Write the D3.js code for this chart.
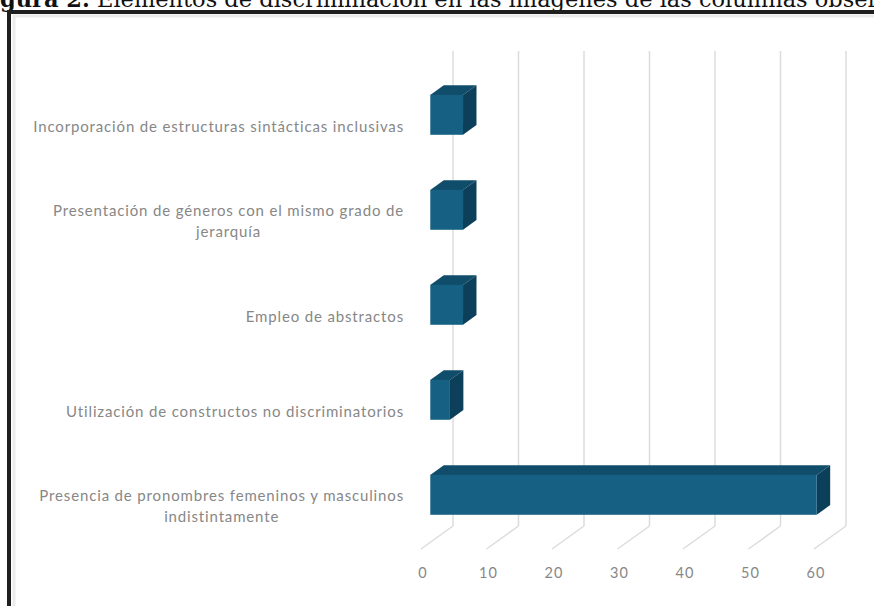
<!DOCTYPE html>
<html>
<head>
<meta charset="utf-8">
<script src="https://cdn.jsdelivr.net/npm/d3@7"></script>
<style>
  html, body { margin: 0; padding: 0; background: #fff; overflow: hidden; }
  svg { display: block; }
</style>
</head>
<body>
<div id="chart"></div>
<script>
// DATA //

// Categories from top to bottom, as the chart shows them.
const categories = [
	'Incorporación de estructuras sintácticas inclusivas',
	'Presentación de géneros con el mismo grado de|jerarquía',
	'Empleo de abstractos',
	'Utilización de constructos no discriminatorios',
	'Presencia de pronombres femeninos y masculinos|indistintamente'
];
const values = [ 5, 5, 5, 3, 59 ];
const valueTicks = [ 0, 10, 20, 30, 40, 50, 60 ];

const titleBold = 'Figura 2.';
const titleText = ' Elementos de discriminación en las imágenes de las columnas observadas';


// SETUP //

const width = 874;
const height = 606;

// Depth offset of the 3D box: back plane is shifted right/up.
const DX = 32;
const DY = 23;
const D1 = 0.29; // bar front depth
const D2 = 0.71; // bar back depth

const colors = {
	front: '#166083',
	top: '#104d6b',
	side: '#0c3f59',
	grid: '#dcdcdc',
	text: '#878787'
};

const titleFont = '22.5px';

const svg = d3.select( '#chart' ).append( 'svg' )
	.attr( 'width', width )
	.attr( 'height', height );

// Title, clipped by the page edges like the source figure.
const title = svg.append( 'text' )
	.attr( 'y', 7 )
	.style( 'font-family', '"DejaVu Serif", serif' )
	.style( 'font-size', titleFont )
	.style( 'fill', '#111' );
title.append( 'tspan' ).style( 'font-weight', 'bold' ).text( titleBold );
title.append( 'tspan' ).text( titleText );
// shift so that "Fi" falls off the page
const probe = svg.append( 'text' )
	.style( 'font-family', '"DejaVu Serif", serif' )
	.style( 'font-size', titleFont )
	.style( 'font-weight', 'bold' )
	.text( 'Fi' );
title.attr( 'x', -probe.node().getComputedTextLength() );
probe.remove();

// Frame of the figure (top and left edges visible).
svg.append( 'rect' )
	.attr( 'x', 14 ).attr( 'y', 16 )
	.attr( 'width', width ).attr( 'height', height )
	.style( 'fill', 'none' )
	.style( 'stroke', '#ececec' )
	.style( 'stroke-width', 3 );
svg.append( 'rect' )
	.attr( 'x', 9 ).attr( 'y', 12 )
	.attr( 'width', width ).attr( 'height', height )
	.style( 'fill', 'none' )
	.style( 'stroke', '#1f1f1f' )
	.style( 'stroke-width', 4 );


// SCALES //

const x = d3.scaleLinear()
	.domain([ 0, 60 ])
	.range([ 421, 814 ]);

const y = d3.scaleBand()
	.domain( categories )
	.range([ 74, 549 ])
	.paddingInner( 0.58 )
	.paddingOuter( 0.29 );

const px = ( v, d ) => x( v ) + d * DX;
const py = ( yf, d ) => yf - d * DY;

const floorY = y.range()[ 1 ];
const topY = y.range()[ 0 ];


// GRID //

const grid = svg.append( 'g' );
grid.selectAll( 'line.back' )
	.data( valueTicks )
	.enter().append( 'line' )
	.attr( 'x1', d => px( d, 1 ) )
	.attr( 'x2', d => px( d, 1 ) )
	.attr( 'y1', py( topY, 1 ) )
	.attr( 'y2', py( floorY, 1 ) )
	.style( 'stroke', colors.grid )
	.style( 'stroke-width', 1.5 );
grid.selectAll( 'line.floor' )
	.data( valueTicks )
	.enter().append( 'line' )
	.attr( 'x1', d => px( d, 1 ) )
	.attr( 'x2', d => px( d, 0 ) )
	.attr( 'y1', py( floorY, 1 ) )
	.attr( 'y2', py( floorY, 0 ) )
	.style( 'stroke', colors.grid )
	.style( 'stroke-width', 1.5 );


// BARS //

const bars = svg.append( 'g' )
	.selectAll( 'g' )
	.data( categories.map( ( c, i ) => ({ c, v: values[ i ] }) ) )
	.enter().append( 'g' );

const pts = arr => arr.map( p => p.join( ',' ) ).join( ' ' );

bars.append( 'polygon' ) // top face
	.attr( 'points', d => {
		const t = y( d.c );
		return pts([
			[ px( 0, D1 ), py( t, D1 ) ],
			[ px( d.v, D1 ), py( t, D1 ) ],
			[ px( d.v, D2 ), py( t, D2 ) ],
			[ px( 0, D2 ), py( t, D2 ) ]
		]);
	})
	.style( 'fill', colors.top );

bars.append( 'polygon' ) // side face
	.attr( 'points', d => {
		const t = y( d.c );
		const b = t + y.bandwidth();
		return pts([
			[ px( d.v, D1 ), py( t, D1 ) ],
			[ px( d.v, D2 ), py( t, D2 ) ],
			[ px( d.v, D2 ), py( b, D2 ) ],
			[ px( d.v, D1 ), py( b, D1 ) ]
		]);
	})
	.style( 'fill', colors.side );

bars.append( 'rect' ) // front face
	.attr( 'x', px( 0, D1 ) )
	.attr( 'y', d => py( y( d.c ), D1 ) )
	.attr( 'width', d => x( d.v ) - x( 0 ) )
	.attr( 'height', y.bandwidth() )
	.style( 'fill', colors.front );


// AXES LABELS //

svg.append( 'g' )
	.selectAll( 'text' )
	.data( valueTicks )
	.enter().append( 'text' )
	.attr( 'x', d => px( d, 0 ) + 2 )
	.attr( 'y', 578 )
	.attr( 'text-anchor', 'middle' )
	.style( 'font-family', 'Lato, sans-serif' )
	.style( 'font-size', '14.5px' )
	.style( 'letter-spacing', '1px' )
	.style( 'fill', colors.text )
	.text( d => d );

const labelRight = 404;
const lineH = 21;
const catLabels = svg.append( 'g' )
	.selectAll( 'text' )
	.data( categories )
	.enter().append( 'text' )
	.style( 'font-family', 'Lato, sans-serif' )
	.style( 'font-size', '15px' )
	.style( 'letter-spacing', '0.85px' )
	.style( 'fill', colors.text );

catLabels.each( function( d ) {
	const lines = d.split( '|' );
	const el = d3.select( this );
	const cy = y( d ) + y.bandwidth() / 2 + 5;
	const spans = lines.map( ( l, i ) => el.append( 'tspan' )
		.attr( 'y', cy + ( i - ( lines.length - 1 ) / 2 ) * lineH )
		.attr( 'dy', '0.35em' )
		.text( l ) );
	const w = d3.max( spans, s => s.node().getComputedTextLength() );
	spans.forEach( s => s.attr( 'x', labelRight - w / 2 ).attr( 'text-anchor', 'middle' ) );
});
</script>
</body>
</html>
